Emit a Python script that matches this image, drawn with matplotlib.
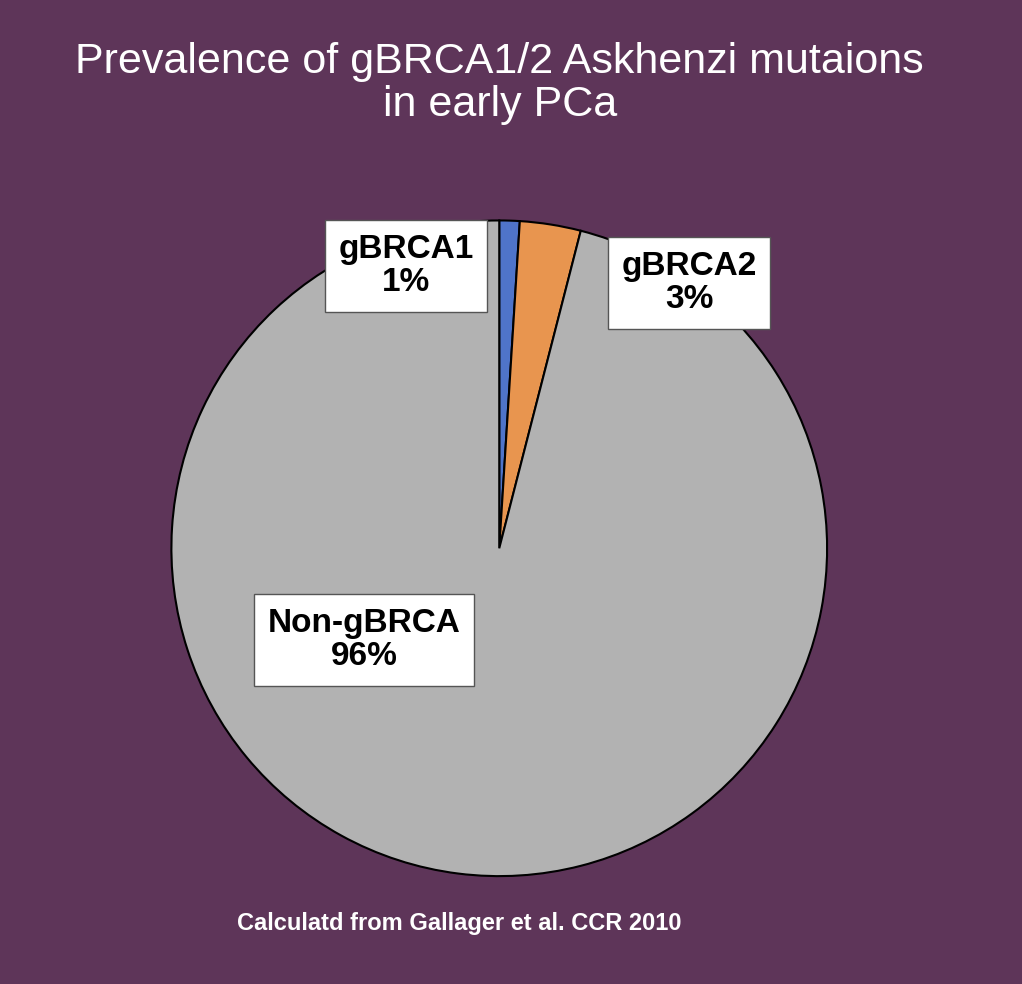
import matplotlib
matplotlib.use("Agg")
import matplotlib.pyplot as plt

labels = ["gBRCA1", "gBRCA2", "Non-gBRCA"]
values = [1, 3, 96]
colors = ["#4f74c9", "#e8954f", "#b2b2b2"]
bg = "#5e3559"

fig = plt.figure(figsize=(10.22, 9.84), dpi=100, facecolor=bg)
ax = fig.add_axes([0.1645, 0.1063, 0.648, 0.673])
ax.set_facecolor(bg)
ax.pie(values, colors=colors, startangle=90, counterclock=False,
       wedgeprops=dict(edgecolor="black", linewidth=1.5))
ax.set_aspect("auto")
ax.set_xlim(-1.01, 1.01)
ax.set_ylim(-1.01, 1.01)
ax.axis("off")

fig.text(0.489, 0.915, "Prevalence of gBRCA1/2 Askhenzi mutaions\nin early PCa",
         ha="center", va="center", color="white", fontsize=31, family="Liberation Sans",
         linespacing=1.1)

pos = [(406, 266), (689, 283), (364, 640)]
for (x, y), lab, v in zip(pos, labels, values):
    fig.text(x / 1022, 1 - y / 984, f"{lab}\n{v}%", ha="center", va="center",
             fontsize=24, fontweight="bold", family="Liberation Sans", color="black",
             linespacing=1.1,
             bbox=dict(boxstyle="square,pad=0.4", facecolor="white", edgecolor="#555555"))

fig.text(0.449, 0.061, "Calculatd from Gallager et al. CCR 2010", ha="center", va="center",
         color="white", fontsize=17, fontweight="bold", family="Liberation Sans")

fig.savefig("out.png", dpi=100, facecolor=bg)
